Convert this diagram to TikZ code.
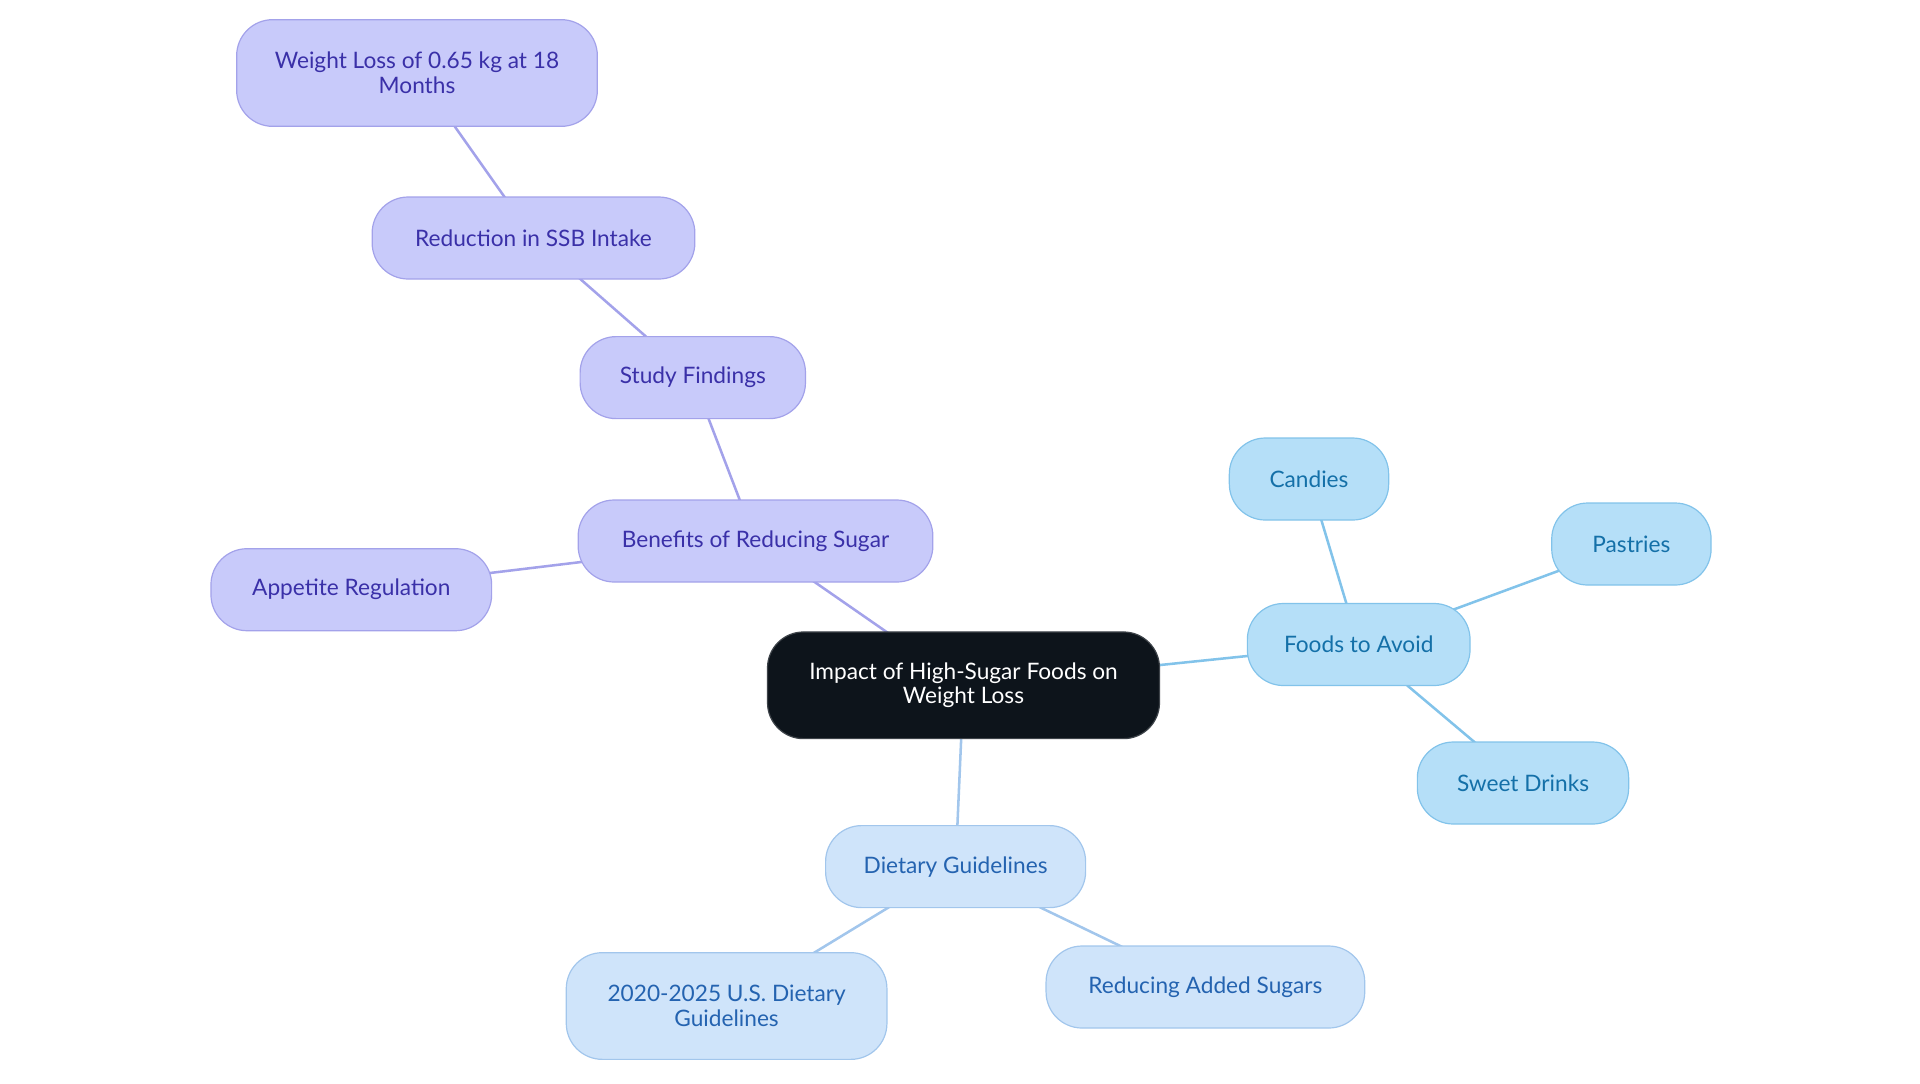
\documentclass[tikz,border=0pt]{standalone}
\usepackage{fontspec}
\setmainfont{Lato}
\usepackage{tikz}
\usepackage{xcolor}
\usetikzlibrary{positioning, backgrounds}

\definecolor{purpleFill}{HTML}{C8CAFA}
\definecolor{purpleLine}{HTML}{A3A2EA}
\definecolor{purpleText}{HTML}{3A30A8}
\definecolor{skyFill}{HTML}{B5DFF8}
\definecolor{skyLine}{HTML}{82C3EA}
\definecolor{skyText}{HTML}{1470A8}
\definecolor{paleFill}{HTML}{CFE4FA}
\definecolor{paleLine}{HTML}{A2C6EC}
\definecolor{paleText}{HTML}{2463B0}
\definecolor{rootFill}{HTML}{0D141B}

\begin{document}
\begin{tikzpicture}[
        x=0.75pt, y=-0.75pt,
        topic/.style={rectangle, rounded corners=27pt, minimum height=61.5pt, inner xsep=0pt, align=center, font=\fontsize{17}{18.5}\selectfont, line width=0.9pt},
        root/.style={topic, fill=rootFill, draw=rootFill!80!white, text=white, minimum height=80pt},
        study/.style={topic, fill=purpleFill, draw=purpleLine, text=purpleText},
        avoid/.style={topic, fill=skyFill, draw=skyLine, text=skyText},
        guide/.style={topic, fill=paleFill, draw=paleLine, text=paleText},
        link/.style={line width=1.9pt}
    ]
    \useasboundingbox (0,0) rectangle (1920,1083);

    % Centre
    \node (Root) [root, minimum width=294pt] at (963.5,685.3) {Impact of High-Sugar Foods on\\Weight Loss};

    % Branch: benefits of reducing sugar
    \node (Benefits) [study, minimum width=266pt] at (755.5,541) {Benefits of Reducing Sugar};
    \node (Appetite) [study, minimum width=210.5pt] at (351.3,589.7) {Appetite Regulation};
    \node (Findings) [study, minimum width=169pt] at (692.8,377.6) {Study Findings};
    \node (SSB) [study, minimum width=242pt] at (533.5,238) {Reduction in SSB Intake};
    \node (WLoss) [study, minimum width=270.5pt, minimum height=80pt] at (417,73) {Weight Loss of 0.65 kg at 18\\Months};

    % Branch: foods to avoid
    \node (Foods) [avoid, minimum width=167pt] at (1358.7,644.5) {Foods to Avoid};
    \node (Candies) [avoid, minimum width=119.5pt] at (1309,479) {Candies};
    \node (Pastries) [avoid, minimum width=119.5pt] at (1631.4,544) {Pastries};
    \node (Drinks) [avoid, minimum width=158.5pt] at (1523,783) {Sweet Drinks};

    % Branch: dietary guidelines
    \node (Dietary) [guide, minimum width=195pt] at (955.6,866.6) {Dietary Guidelines};
    \node (USDG) [guide, minimum width=240.5pt, minimum height=80pt] at (726.6,1006) {2020-2025 U.S. Dietary\\Guidelines};
    \node (Added) [guide, minimum width=239pt] at (1205.4,987) {Reducing Added Sugars};

    % Connectors behind the boxes
    \begin{pgfonlayer}{background}
    \draw[link, purpleLine] (Root.center) -- (Benefits.center);
    \draw[link, purpleLine] (Benefits.center) -- (Appetite.center);
    \draw[link, purpleLine] (Benefits.center) -- (Findings.center);
    \draw[link, purpleLine] (Findings.center) -- (SSB.center);
    \draw[link, purpleLine] (SSB.center) -- (WLoss.center);
    \draw[link, skyLine] (Root.center) -- (Foods.center);
    \draw[link, skyLine] (Foods.center) -- (Candies.center);
    \draw[link, skyLine] (Foods.center) -- (Pastries.center);
    \draw[link, skyLine] (Foods.center) -- (Drinks.center);
    \draw[link, paleLine] (Root.center) -- (Dietary.center);
    \draw[link, paleLine] (Dietary.center) -- (USDG.center);
    \draw[link, paleLine] (Dietary.center) -- (Added.center);
    \end{pgfonlayer}

    \end{tikzpicture}
\end{document}
